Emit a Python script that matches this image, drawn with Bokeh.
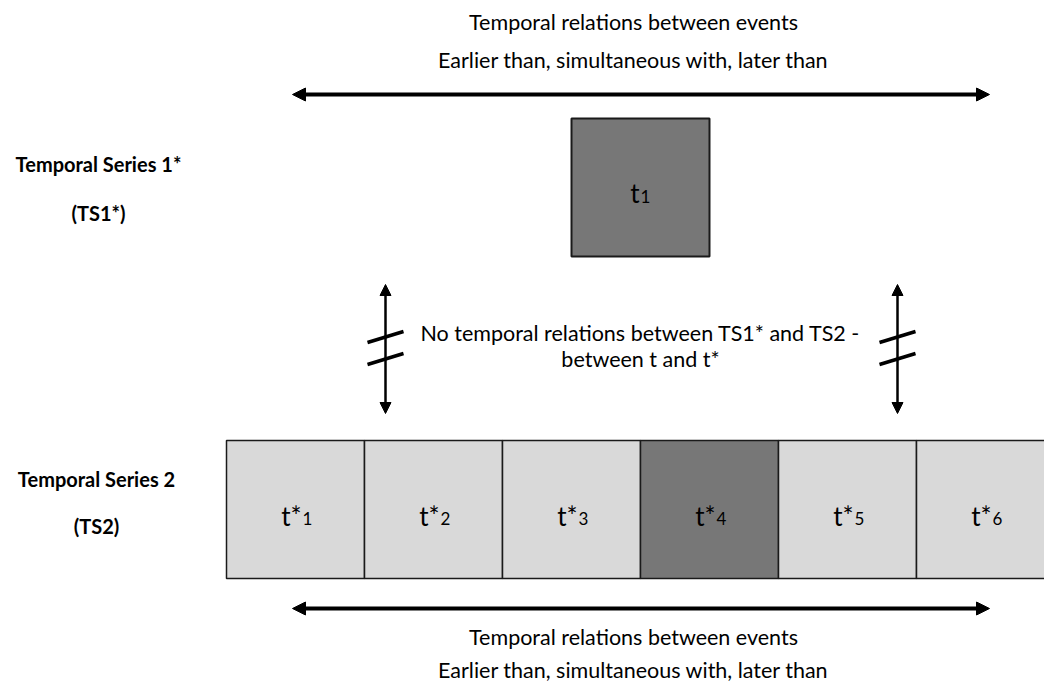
from bokeh.plotting import figure
from bokeh.models import Arrow, NormalHead, ColumnDataSource
from bokeh.embed import file_html
from bokeh.resources import INLINE
from bokeh.core.properties import value

# ---------------- content ----------------
series2_main = ["t*", "t*", "t*", "t*", "t*", "t*"]
series2_subs = ["1", "2", "3", "4", "5", "6"]
series2_highlight = [False, False, False, True, False, False]
series1_main = ["t"]
series1_subs = ["1"]
series1_slot = [2.5]          # position of the TS1* event measured in TS2 slots
relation_lines = ["Temporal relations between events",
                  "Earlier than, simultaneous with, later than"]
no_relation_lines = ["No temporal relations between TS1* and TS2 -",
                     "between t and t*"]
ts1_titles = ["Temporal Series 1*", "(TS1*)"]
ts2_titles = ["Temporal Series 2", "(TS2)"]

# ---------------- layout (page pixels) ----------------
W, H = 1044, 688
X0, BW = 226, 138                 # first TS2 slot left edge, slot width
ROW2_TOP, ROW2_BOT = 440, 578
ROW1_TOP, ROW1_BOT = 118, 256
HARROW_X = (292, 989)
TOP_ARROW_Y, BOT_ARROW_Y = 94, 608
VARROW_X = [385, 897]
VARROW_Y = (284, 413)
FONT = value("Lato")
LIGHT, DARK = "#d9d9d9", "#777777"

p = figure(width=W, height=H, x_range=(0, W), y_range=(H, 0),
           output_backend="svg", toolbar_location=None, min_border=0)
p.axis.visible = False
p.grid.visible = False
p.outline_line_color = None
p.background_fill_color = "white"

# ---- TS2 boxes ----
n2 = len(series2_main)
left2 = [X0 + i * BW for i in range(n2)]
right2 = [l + BW for l in left2]
fill2 = [DARK if h else LIGHT for h in series2_highlight]
p.quad(left=left2, right=right2, top=[ROW2_TOP] * n2, bottom=[ROW2_BOT] * n2,
       fill_color=fill2, line_color="#1a1a1a", line_width=1.5)

# ---- TS1 box ----
left1 = [X0 + s * BW for s in series1_slot]
right1 = [l + BW for l in left1]
p.quad(left=left1, right=right1, top=[ROW1_TOP], bottom=[ROW1_BOT],
       fill_color=DARK, line_color="#1a1a1a", line_width=2)

# ---- box labels with subscripts ----
cx2 = [(l + r) / 2 for l, r in zip(left2, right2)]
cy2 = (ROW2_TOP + ROW2_BOT) / 2
p.text(x=[c + 6 for c in cx2], y=[cy2 + 6] * n2, text=series2_main,
       text_font=FONT, text_font_size="26px", text_align="right",
       text_baseline="alphabetic", text_color="black")
p.text(x=[c + 7 for c in cx2], y=[cy2 + 9] * n2, text=series2_subs,
       text_font=FONT, text_font_size="17px", text_align="left",
       text_baseline="alphabetic", text_color="black")

cx1 = [(l + r) / 2 for l, r in zip(left1, right1)]
cy1 = (ROW1_TOP + ROW1_BOT) / 2
p.text(x=[c - 1 for c in cx1], y=[cy1 + 5], text=series1_main,
       text_font=FONT, text_font_size="26px", text_align="right",
       text_baseline="alphabetic", text_color="black")
p.text(x=[c for c in cx1], y=[cy1 + 9], text=series1_subs,
       text_font=FONT, text_font_size="17px", text_align="left",
       text_baseline="alphabetic", text_color="black")

# ---- horizontal relation arrows ----
hsrc = ColumnDataSource(dict(x0=[HARROW_X[0], HARROW_X[0]], x1=[HARROW_X[1], HARROW_X[1]],
                             y=[TOP_ARROW_Y, BOT_ARROW_Y]))
p.add_layout(Arrow(x_start="x1", y_start="y", x_end="x0", y_end="y", source=hsrc,
                   line_width=4, line_color="black",
                   start=NormalHead(size=13, fill_color="black", line_color="black"),
                   end=NormalHead(size=13, fill_color="black", line_color="black")))

# ---- vertical "no relation" arrows ----
vsrc = ColumnDataSource(dict(x=VARROW_X, y0=[VARROW_Y[0]] * 2, y1=[VARROW_Y[1]] * 2))
p.add_layout(Arrow(x_start="x", y_start="y1", x_end="x", y_end="y0", source=vsrc,
                   line_width=2.5, line_color="black",
                   start=NormalHead(size=11, fill_color="black", line_color="black"),
                   end=NormalHead(size=11, fill_color="black", line_color="black")))

# break marks (two slanted strokes on each vertical arrow)
bx0, bx1, by0, by1 = [], [], [], []
for x in VARROW_X:
    for yb in (342, 364):
        bx0.append(x - 18); by0.append(yb)
        bx1.append(x + 18); by1.append(yb - 11)
p.segment(x0=bx0, y0=by0, x1=bx1, y1=by1, line_color="black", line_width=3.5)

# ---- texts ----
tcx = 633
p.text(x=[tcx, tcx], y=[21, 59], text=relation_lines, text_font=FONT,
       text_font_size="21.5px", text_align="center", text_baseline="middle",
       text_color="black")
p.text(x=[tcx, tcx], y=[636, 669], text=relation_lines, text_font=FONT,
       text_font_size="21.5px", text_align="center", text_baseline="middle",
       text_color="black")
p.text(x=[640, 640], y=[332, 358], text=no_relation_lines, text_font=FONT,
       text_font_size="21.5px", text_align="center", text_baseline="middle",
       text_color="black")

p.text(x=[98, 98], y=[163, 212], text=ts1_titles, text_font=FONT,
       text_font_size="20px", text_font_style="bold", text_align="center",
       text_baseline="middle", text_color="black")
p.text(x=[96, 96], y=[478, 525], text=ts2_titles, text_font=FONT,
       text_font_size="20px", text_font_style="bold", text_align="center",
       text_baseline="middle", text_color="black")

open("out.html", "w").write(file_html(p, INLINE))
